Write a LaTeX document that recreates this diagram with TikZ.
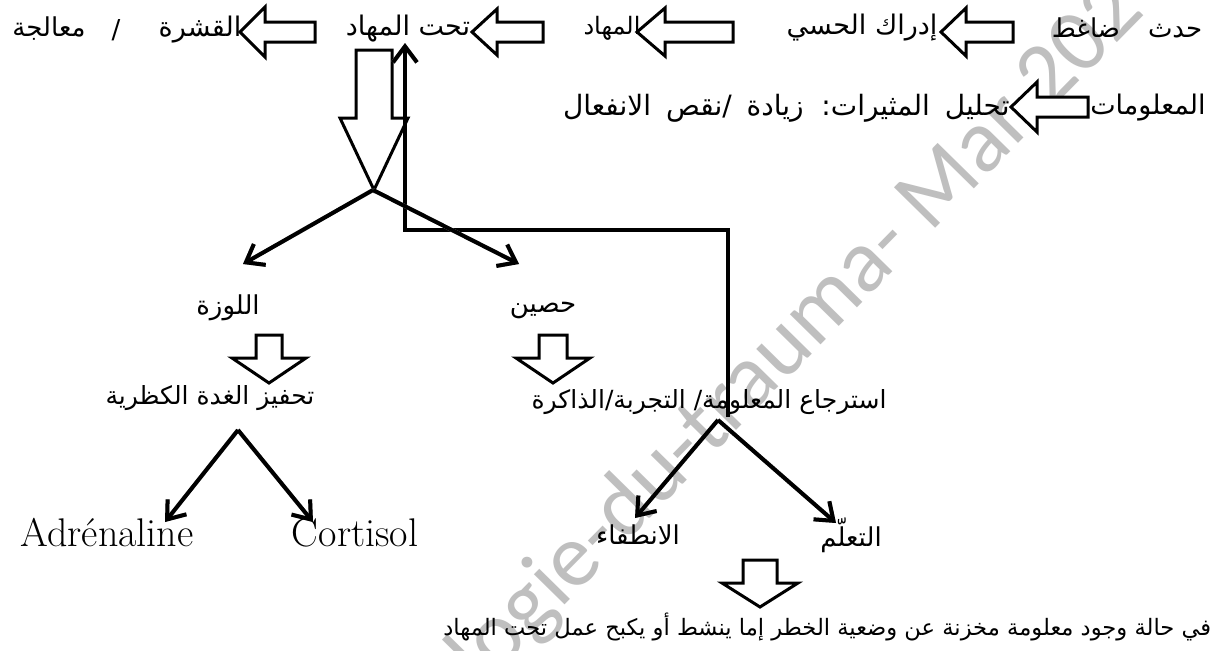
\documentclass[tikz,border=0pt]{standalone}
\usepackage{fontspec}
\usetikzlibrary{arrows.meta}
\newfontfamily\arabicfont[Script=Arabic]{DejaVu Sans}
\newfontfamily\wmfont{Carlito}
\TeXXeTstate=1
\definecolor{wmgray}{HTML}{BFBFBF}
\definecolor{shgray}{HTML}{A6A6A6}
% left-pointing block arrow: tip x, y, head length, head half height, shaft half height, tail x
\newcommand\blockL[6]{\draw[barrow] (#1,#2) -- (#1+#3,#2-#4) -- (#1+#3,#2-#5) -- (#6,#2-#5) -- (#6,#2+#5) -- (#1+#3,#2+#5) -- (#1+#3,#2+#4) -- cycle;}
% down-pointing block arrow: centre x, top y, shaft half width, head base y, head half width, tip y
\newcommand\blockD[6]{\draw[barrow] (#1-#3,#2) -- (#1+#3,#2) -- (#1+#3,#4) -- (#1+#5,#4) -- (#1,#6) -- (#1-#5,#4) -- (#1-#3,#4) -- cycle;}
\newcommand\wsp{\hspace{3pt}}
\tikzset{
  ar/.style={inner sep=0pt, font=\arabicfont\fontsize{#1}{#1}\selectfont},
  lat/.style={inner sep=0pt, font=\fontsize{20}{20}\selectfont},
  barrow/.style={draw=black, line width=1.5pt, fill=white, line join=miter},
  larrow/.style={line width=2pt, -{Straight Barb[length=8pt,width=12pt]}},
  shadowed/.style={line width=2pt, draw=shgray, shift={(2.5,2.5)}, -{Straight Barb[length=8pt,width=12pt]}},
}
\begin{document}
\begin{tikzpicture}[x=0.5pt,y=-0.5pt]
\useasboundingbox (0,0) rectangle (1226,650);
\fill[white] (0,0) rectangle (1226,650);
% watermark
\node[rotate=45.5, text=wmgray, inner sep=0pt, font=\wmfont\fontsize{45}{45}\selectfont] (wm) at (765,368) {hologie-du-trauma- Mar 202};

% row 1
\node[ar=13] (t1) at (1127,28) {\beginR حدث\hspace{14pt}ضاغط\endR};
\node[ar=13.5] (t2) at (862,28) {\beginR إدراك الحسي\endR};
\node[ar=12] (t3) at (612,28) {\beginR المهاد\endR};
\node[ar=13.5] (t4) at (408,29) {\beginR تحت المهاد\endR};
\node[ar=13.5] (t5) at (200,30) {\beginR القشرة\endR};
\node[ar=13] (t6) at (116,30) {/};
\node[ar=13] (t7) at (49,29) {\beginR معالجة\endR};
\blockL{941}{32}{25}{24}{10}{1013}
\blockL{637}{32}{28}{24}{10}{733}
\blockL{472}{32}{25}{23}{10}{543}
\blockL{240}{32}{25}{25}{10}{315}
% row 2
\node[ar=13.5] (t8) at (1148,108) {\beginR المعلومات\endR};
\node[ar=14, anchor=east] (t9) at (1010,108) {\beginR تحليل\wsp{} المثيرات:\wsp{} زيادة\wsp{} /نقص\wsp{} الانفعال\endR};
\blockL{1011}{107}{26}{25}{10}{1088}

% big down arrow
\blockD{374}{50}{18}{118}{34}{190}

% feedback line up to hypothalamus
\coordinate (retTop) at (728,417);
\coordinate (corner1) at (728,230);
\coordinate (corner2) at (405,230);
\coordinate (hypo) at (405,43);
\draw[shadowed] (retTop) -- (corner1) -- (corner2) -- (hypo);
\draw[larrow] (retTop) -- (corner1) -- (corner2) -- (hypo);

% first fork
\coordinate (forkA) at (373,190);
\coordinate (amygEnd) at (243,264);
\coordinate (hippEnd) at (519,264);
\draw[shadowed] (forkA) -- (amygEnd);
\draw[shadowed] (forkA) -- (hippEnd);
\draw[larrow] (forkA) -- (amygEnd);
\draw[larrow] (forkA) -- (hippEnd);

\node[ar=13] (amyg) at (228,308) {\beginR اللوزة\endR};
\node[ar=13] (hipp) at (543,310) {\beginR حصين\endR};
\blockD{269}{335}{13}{358}{37}{383}
\blockD{553}{335}{14}{358}{37}{383}
\node[ar=12.5] (adr) at (210,398) {\beginR تحفيز الغدة الكظرية\endR};
\node[ar=12.5] (retr) at (709,402) {\beginR استرجاع المعلومة/ التجربة/الذاكرة\endR};

% adrenal fork
\coordinate (forkB) at (238,430);
\coordinate (adrEnd) at (165,522);
\coordinate (corEnd) at (313,522);
\draw[shadowed] (forkB) -- (adrEnd);
\draw[shadowed] (forkB) -- (corEnd);
\draw[larrow] (forkB) -- (adrEnd);
\draw[larrow] (forkB) -- (corEnd);
\node[lat] (adrenaline) at (107,533) {Adrénaline};
\node[lat] (cortisol) at (355,533) {Cortisol};

% retrieval fork
\coordinate (forkC) at (718,420);
\coordinate (extEnd) at (635,518);
\coordinate (learnEnd) at (836,523);
\draw[shadowed] (forkC) -- (extEnd);
\draw[shadowed] (forkC) -- (learnEnd);
\draw[larrow] (forkC) -- (extEnd);
\draw[larrow] (forkC) -- (learnEnd);
\node[ar=13] (ext) at (638,535) {\beginR الانطفاء\endR};
\node[ar=13] (learn) at (851,535) {\beginR التعلّم\endR};

\blockD{760}{560}{17}{583}{38}{607}
\node[ar=11.3, anchor=west] (last) at (443,627) {\beginR في حالة وجود معلومة مخزنة عن وضعية الخطر إما ينشط أو يكبح عمل تحت المهاد\endR};
\end{tikzpicture}
\end{document}
